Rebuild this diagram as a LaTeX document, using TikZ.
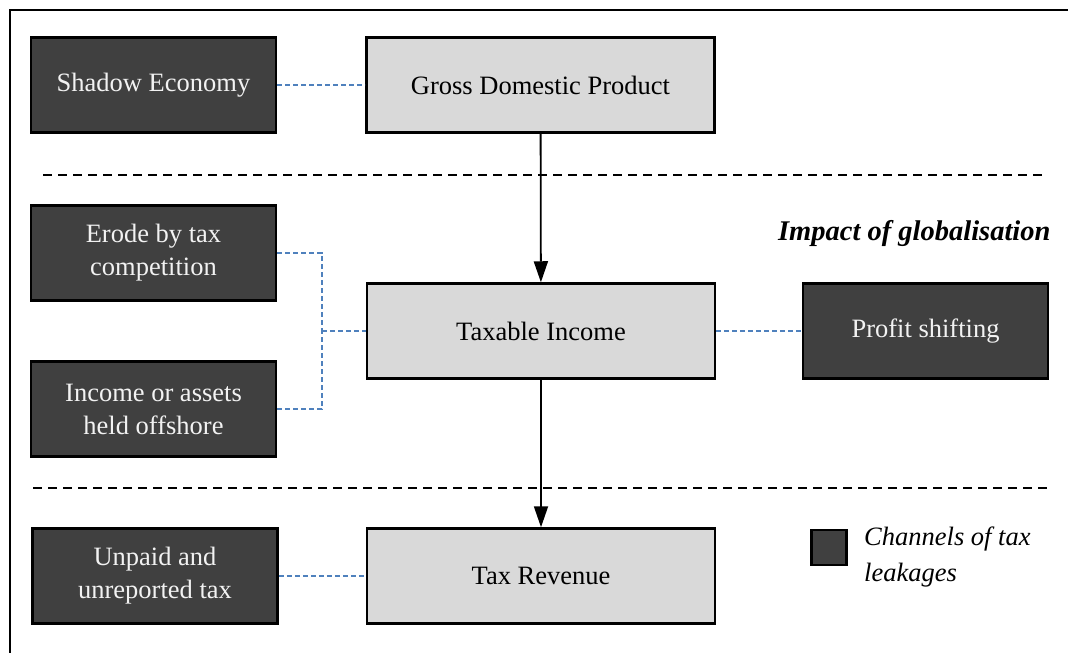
\documentclass[tikz,border=0pt]{standalone}
\usepackage{fontspec}
\setmainfont{Liberation Serif}
\usetikzlibrary{arrows.meta}

\definecolor{leakgray}{HTML}{404040}
\definecolor{flowgray}{HTML}{D9D9D9}
\definecolor{linkblue}{HTML}{4F81BD}

\begin{document}
\begin{tikzpicture}[x=1pt,y=-1pt,
        leak/.style={draw=black,line width=2.5pt,fill=leakgray,text=white!95!black,
            minimum width=245pt,minimum height=95pt,align=center,
            font=\fontsize{26.5}{33}\selectfont},
        flow/.style={draw=black,line width=2.5pt,fill=flowgray,
            minimum width=348pt,minimum height=95pt,align=center,
            font=\fontsize{26.5}{33}\selectfont},
        link/.style={draw=linkblue,line width=1.6pt,dash pattern=on 5pt off 3pt},
        sepline/.style={line width=2pt,dash pattern=on 9pt off 6pt},
        flowarrow/.style={line width=1.8pt,-{Triangle[length=21pt,width=14pt]}}]
                \useasboundingbox (0,0) rectangle (1068,653);
                \draw[line width=2pt] (9.5,670) |- (1090,10);

                % main chain
                \node[flow] (gdp) at (540.5,85) {Gross Domestic Product};
                \node[flow] (taxable) at (541,331) {Taxable Income};
                \node[flow] (revenue) at (541,576) {Tax Revenue};

                % leakages
                \node[leak] (shadow) at (153.5,85) {Shadow Economy};
                \node[leak] (erode) at (153.5,253) {Erode by tax\\competition};
                \node[leak] (offshore) at (153.5,409) {Income or assets\\held offshore};
                \node[leak] (profit) at (925.5,331) {Profit shifting};
                \node[leak] (unpaid) at (155,576) {Unpaid and\\unreported tax};

                % separators
                \coordinate (sepAl) at (43,175);
                \coordinate (sepAr) at (1047,175);
                \coordinate (sepBl) at (33,488);
                \coordinate (sepBr) at (1047,488);
                \draw[sepline] (sepAl) -- (sepAr);
                \draw[sepline] (sepBl) -- (sepBr);

                \draw[flowarrow] (gdp) -- (taxable);
                \draw[flowarrow] (taxable) -- (revenue);

                \coordinate (jn) at (322,331);
                \draw[link] (shadow) -- (gdp);
                \draw[link] (erode.east) -| (jn);
                \draw[link] (offshore.east) -| (jn);
                \draw[link] (jn) -- (taxable.west);
                \draw[link] (taxable) -- (profit);
                \draw[link] (unpaid) -- (revenue);

                \node[anchor=base east,font=\fontsize{28.5}{34}\selectfont\bfseries\itshape] (impact) at (1054,240) {Impact of globalisation};

                % legend
                \node[draw=black,line width=2.5pt,fill=leakgray,minimum width=35pt,minimum height=35pt,inner sep=0pt] (key) at (829,547.5) {};
                \node[anchor=north west,align=left,inner sep=0pt,font=\fontsize{26.5}{36}\selectfont\itshape] (keytext) at (864,527) {Channels of tax\\leakages};
            \end{tikzpicture}
\end{document}
